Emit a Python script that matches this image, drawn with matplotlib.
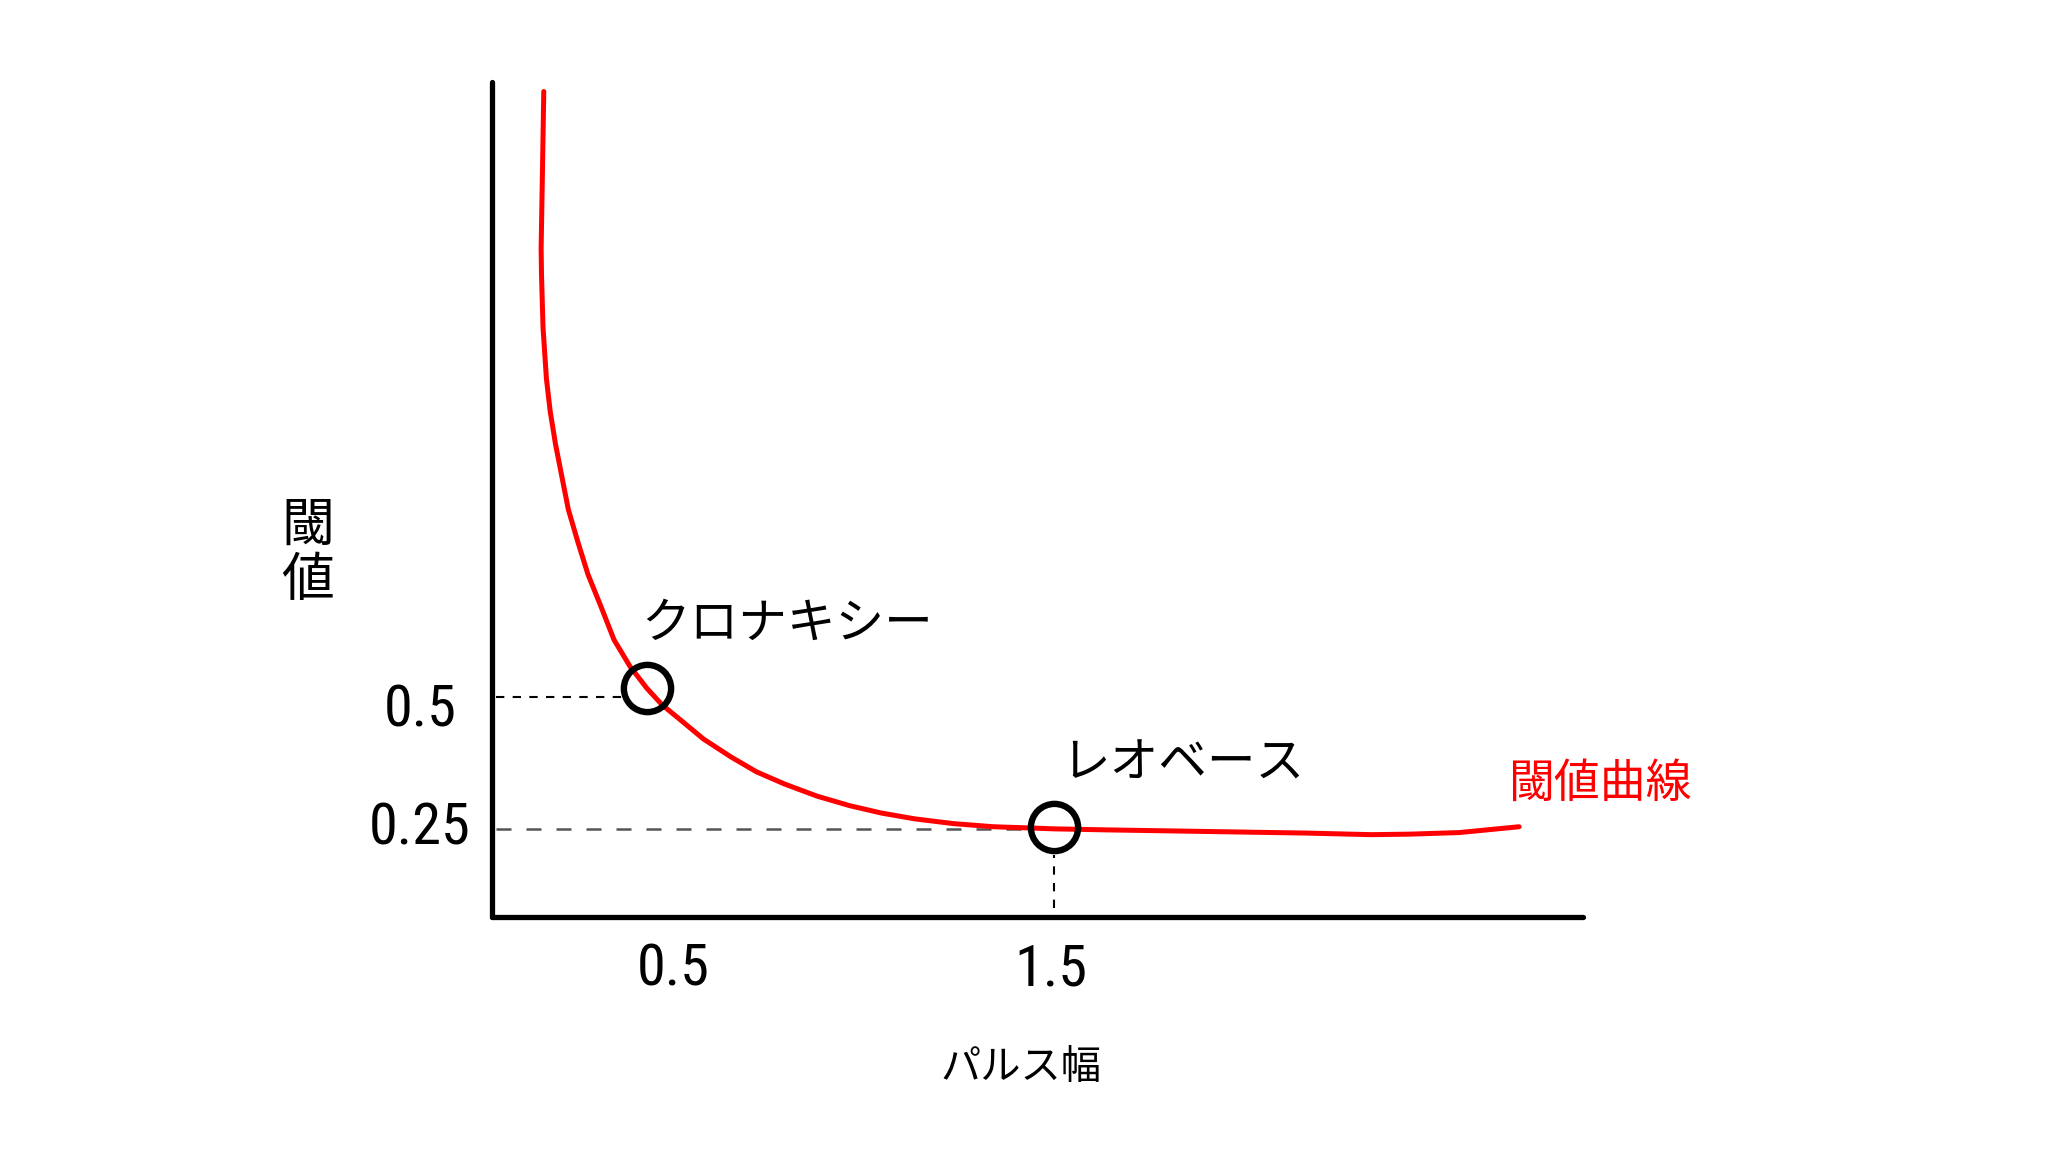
import matplotlib
matplotlib.use("Agg")
import matplotlib.pyplot as plt
import matplotlib.transforms as mtransforms

plt.rcParams['font.family'] = ['Noto Sans CJK JP', 'DejaVu Sans']
DIGIT_FONT = ['Roboto Condensed', 'Noto Sans CJK JP', 'DejaVu Sans']

# Threshold curve (pulse width vs threshold)
curve_x = [0.157, 0.153, 0.150, 0.151, 0.155, 0.164, 0.174, 0.188, 0.205, 0.222,
           0.247, 0.274, 0.309, 0.343, 0.385, 0.429, 0.47, 0.516, 0.58, 0.653,
           0.72, 0.794, 0.88, 0.966, 1.05, 1.138, 1.24, 1.347, 1.43, 1.508,
           1.65, 1.828, 2.0, 2.175, 2.347, 2.45, 2.58, 2.738]
curve_y = [1.647, 1.474, 1.35, 1.30, 1.20, 1.103, 1.041, 0.979, 0.917, 0.855,
           0.794, 0.732, 0.670, 0.608, 0.558, 0.517, 0.485, 0.458, 0.42, 0.386,
           0.358, 0.335, 0.312, 0.294, 0.28, 0.269, 0.26, 0.254, 0.252, 0.250,
           0.248, 0.246, 0.244, 0.242, 0.239, 0.240, 0.243, 0.254]

# Marked points: chronaxie and rheobase
point_names = ['クロナキシー', 'レオベース']
point_x = [0.429, 1.508]
point_y = [0.517, 0.254]
label_x = [0.415, 1.525]
label_y = [0.638, 0.373]

x_ticks = [0.5, 1.5]
x_tick_labels = ['0.5', '1.5']
y_ticks = [0.5, 0.25]
y_tick_labels = ['0.5', '0.25']

fig = plt.figure(figsize=(20.48, 11.52), dpi=100)
ax = fig.add_axes([492/2048, 1-917/1152, (1583-492)/2048, (917-82)/1152])
ax.set_xlim(0.02, 2.907)
ax.set_ylim(0.083, 1.665)

for s in ['top', 'right']:
    ax.spines[s].set_visible(False)
for s in ['left', 'bottom']:
    ax.spines[s].set_linewidth(3.8)
    ax.spines[s].set_color('black')
    ax.spines[s].set_capstyle('round')

ax.plot(curve_x, curve_y, color='#ff0000', lw=3.6, solid_capstyle='round',
        solid_joinstyle='round', zorder=3)

# dashed guide lines
ax.plot([0.03, 0.378], [0.5, 0.5], color='black', lw=1.5, ls=(0, (4, 4)), zorder=2)
ax.plot([0.03, 1.45], [0.25, 0.25], color='#555555', lw=1.8, ls=(0, (6, 6)), zorder=2)
ax.plot([1.508, 1.508], [0.1, 0.2], color='black', lw=1.5, ls=(0, (4, 4)), zorder=2)

ax.plot(point_x, point_y, 'o', ms=34, mfc='none', mec='black', mew=4.6, zorder=4)

for name, lx, ly in zip(point_names, label_x, label_y):
    ax.text(lx, ly, name, fontsize=35, ha='left', va='center', color='black')

ax.text(2.709, 0.336, '閾値曲線', fontsize=33, ha='left', va='center', color='#ff0000')

ax.set_xticks(x_ticks)
ax.set_xticklabels(x_tick_labels, fontsize=42, family=DIGIT_FONT)
ax.set_yticks(y_ticks)
ax.set_yticklabels(y_tick_labels, fontsize=42, family=DIGIT_FONT)
ax.tick_params(axis='both', length=0)
ax.tick_params(axis='x', pad=18)
ax.tick_params(axis='y', pad=52)
for lab in ax.get_yticklabels():
    lab.set_verticalalignment('center')
    lab.set_horizontalalignment('center')
# the "0.5" label sits a little below its guide line in the reference
yl = ax.get_yticklabels()
yl[0].set_transform(yl[0].get_transform() +
                    mtransforms.ScaledTranslation(0, -10/72, fig.dpi_scale_trans))

fig.text(308/2048, 1-553/1152, '閾\n値', fontsize=38, ha='center', va='center',
         linespacing=1.0)
fig.text(1021/2048, 1-1067/1152, 'パルス幅', fontsize=29, ha='center', va='center')

fig.savefig('out.png', dpi=100, facecolor='white')
